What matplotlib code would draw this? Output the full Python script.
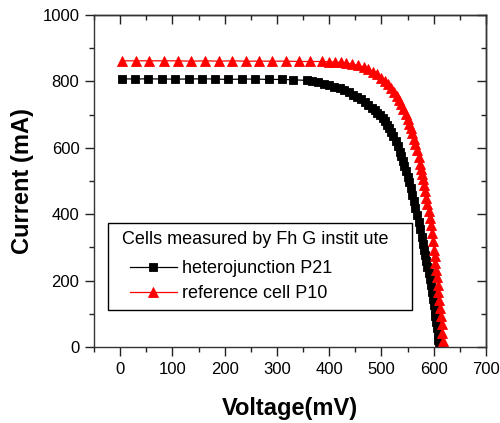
import matplotlib
matplotlib.use("Agg")
import matplotlib.pyplot as plt
from matplotlib.ticker import MultipleLocator
from matplotlib.patches import Rectangle

plt.rcParams['font.family'] = ['Liberation Sans', 'DejaVu Sans']

# heterojunction P21 (black squares)
v_het = [3, 29, 54, 80, 105, 131, 156, 182, 207, 233, 258, 284, 309, 331,
         357, 368, 379, 390, 400, 410, 420, 429, 438, 446, 454, 461, 468, 475,
         481, 487, 492, 497, 502, 507, 511, 515, 519, 523, 527, 531, 535, 538,
         541, 544, 547, 550, 553, 556, 559, 562, 565, 568, 571, 574, 577, 580,
         582, 584, 586, 588, 590, 592, 594, 596, 598, 600, 601.5, 603, 604.5,
         606, 607.5, 609, 610.5]
i_het = [808, 807, 808, 807, 807, 807, 808, 807, 806, 807, 807, 806, 806, 805,
         803, 800, 797, 793, 789, 784, 779, 774, 767, 760, 753, 746, 737, 729,
         721, 713, 706, 699, 691, 681, 670, 660, 648, 635, 621, 605, 588, 574,
         560, 545, 529, 513, 496, 478, 459, 440, 420, 399, 378, 355, 332, 309,
         293, 276, 259, 242, 224, 205, 186, 167, 146, 126, 110, 93, 75,
         57, 39, 20, 3]

# reference cell P10 (red triangles)
v_ref = [4, 31, 56, 83, 110, 136, 163, 189, 214, 240, 266, 291, 317, 343, 364,
         387, 400, 411, 422, 433, 444, 456, 466, 475, 484, 492, 500, 507, 513,
         519, 524, 529, 534, 538, 542, 546, 550, 553, 556, 559, 562, 565, 568,
         571, 574, 576, 578, 580, 582, 584, 586, 588, 590, 592, 594, 596, 598,
         600, 601.5, 603, 604.5, 606, 607.5, 609, 610.5, 612, 613.5, 615, 616.5,
         618, 619]
i_ref = [862, 862, 862, 862, 862, 861, 862, 861, 862, 861, 861, 861, 861, 860, 860,
         860, 859, 858, 857, 855, 852, 848, 843, 837, 829, 821, 811, 801, 792,
         779, 768, 757, 743, 731, 717, 702, 686, 673, 659, 644, 628, 611, 593,
         573, 552, 537, 522, 505, 487, 469, 450, 430, 410, 388, 366, 343, 318,
         293, 273, 253, 232, 210, 188, 165, 142, 118, 93, 68, 43,
         18, 2]

x_ticks = [0, 100, 200, 300, 400, 500, 600, 700]
y_ticks = [0, 200, 400, 600, 800, 1000]

fig = plt.figure(figsize=(5.0, 4.23), dpi=100)
ax = fig.add_axes([0.188, 0.1797, 0.784, 0.7848])

ax.plot(v_het, i_het, color='black', lw=0.9, marker='s', markersize=5.3,
        markeredgewidth=0.6, label='heterojunction P21')
ax.plot(v_ref, i_ref, color='red', lw=0.9, marker='^', markersize=7,
        markeredgewidth=0.6, label='reference cell P10')

ax.set_xlim(-50, 700)
ax.set_ylim(0, 1000)
ax.set_xticks(x_ticks)
ax.set_yticks(y_ticks)
ax.xaxis.set_minor_locator(MultipleLocator(50))
ax.yaxis.set_minor_locator(MultipleLocator(100))
ax.tick_params(which='major', direction='out', length=6.5, width=1, labelsize=12,
               color='#222222', pad=4)
ax.tick_params(which='minor', direction='out', length=3.5, width=1, color='#222222')
for s in ax.spines.values():
    s.set_linewidth(1.0)
    s.set_color('#333333')

# inward ticks on top and right
top = ax.secondary_xaxis('top')
top.set_xticks(x_ticks)
top.xaxis.set_minor_locator(MultipleLocator(50))
top.tick_params(which='major', direction='in', length=6.5, width=1, labeltop=False, color='#222222')
top.tick_params(which='minor', direction='in', length=3.5, width=1, color='#222222')
top.spines['top'].set_linewidth(1.0)
right = ax.secondary_yaxis('right')
right.set_yticks(y_ticks)
right.yaxis.set_minor_locator(MultipleLocator(100))
right.tick_params(which='major', direction='in', length=6.5, width=1, labelright=False, color='#222222')
right.tick_params(which='minor', direction='in', length=3.5, width=1, color='#222222')
right.spines['right'].set_linewidth(1.0)

ax.set_xlabel('Voltage(mV)', fontsize=17, fontweight='bold', labelpad=15)
ax.set_ylabel('Current (mA)', fontsize=17, fontweight='bold', labelpad=6)

# legend: frame, title and entries
ax.add_patch(Rectangle((0.0357, 0.111), 0.775, 0.2625, transform=ax.transAxes,
                       fill=False, edgecolor='black', lw=1.0, zorder=5))
ax.text(0.0715, 0.3225, 'Cells measured by Fh G instit ute', transform=ax.transAxes,
        fontsize=13, ha='left', va='center', zorder=6)
leg = ax.legend(loc='upper left', bbox_to_anchor=(0.0918, 0.262), borderaxespad=0,
                borderpad=0, fontsize=13, frameon=False,
                handlelength=2.6, handletextpad=0.3, labelspacing=0.45)

fig.savefig('out.png', dpi=100)
